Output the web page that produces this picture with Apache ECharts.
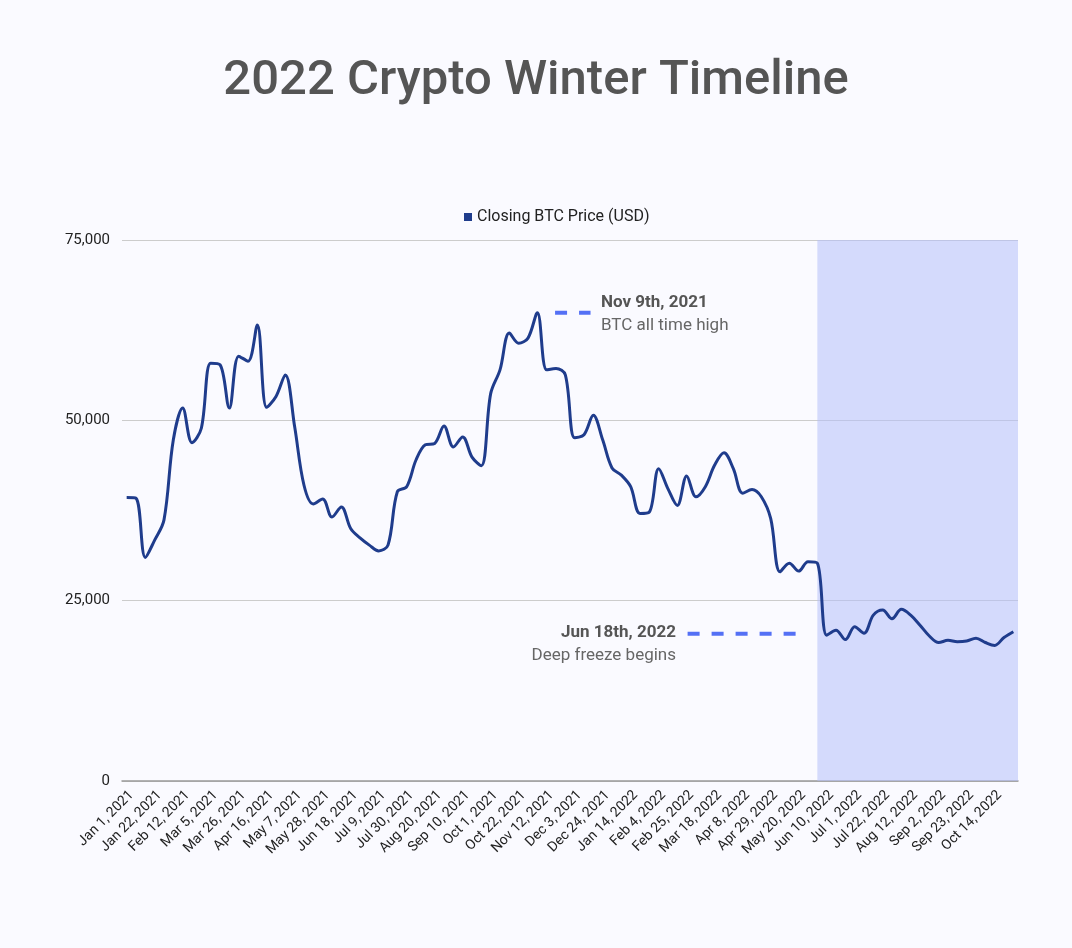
<!DOCTYPE html>
<html>
<head>
<meta charset="utf-8">
<script src="https://cdn.jsdelivr.net/npm/echarts@6/dist/echarts.min.js"></script>
<style>
html,body{margin:0;padding:0;background:#fafaff;}
#chart{width:1072px;height:948px;}
</style>
</head>
<body>
<div id="chart"></div>
<script>
var weekLabels = [
'Jan 1, 2021','Jan 8, 2021','Jan 15, 2021','Jan 22, 2021','Jan 29, 2021',
'Feb 5, 2021','Feb 12, 2021','Feb 19, 2021','Feb 26, 2021',
'Mar 5, 2021','Mar 12, 2021','Mar 19, 2021','Mar 26, 2021',
'Apr 2, 2021','Apr 9, 2021','Apr 16, 2021','Apr 23, 2021','Apr 30, 2021',
'May 7, 2021','May 14, 2021','May 21, 2021','May 28, 2021',
'Jun 4, 2021','Jun 11, 2021','Jun 18, 2021','Jun 25, 2021',
'Jul 2, 2021','Jul 9, 2021','Jul 16, 2021','Jul 23, 2021','Jul 30, 2021',
'Aug 6, 2021','Aug 13, 2021','Aug 20, 2021','Aug 27, 2021',
'Sep 3, 2021','Sep 10, 2021','Sep 17, 2021','Sep 24, 2021',
'Oct 1, 2021','Oct 8, 2021','Oct 15, 2021','Oct 22, 2021','Oct 29, 2021',
'Nov 5, 2021','Nov 12, 2021','Nov 19, 2021','Nov 26, 2021',
'Dec 3, 2021','Dec 10, 2021','Dec 17, 2021','Dec 24, 2021','Dec 31, 2021',
'Jan 7, 2022','Jan 14, 2022','Jan 21, 2022','Jan 28, 2022',
'Feb 4, 2022','Feb 11, 2022','Feb 18, 2022','Feb 25, 2022',
'Mar 4, 2022','Mar 11, 2022','Mar 18, 2022','Mar 25, 2022',
'Apr 1, 2022','Apr 8, 2022','Apr 15, 2022','Apr 22, 2022','Apr 29, 2022',
'May 6, 2022','May 13, 2022','May 20, 2022','May 27, 2022',
'Jun 3, 2022','Jun 10, 2022','Jun 17, 2022','Jun 24, 2022',
'Jul 1, 2022','Jul 8, 2022','Jul 15, 2022','Jul 22, 2022','Jul 29, 2022',
'Aug 5, 2022','Aug 12, 2022','Aug 19, 2022','Aug 26, 2022',
'Sep 2, 2022','Sep 9, 2022','Sep 16, 2022','Sep 23, 2022','Sep 30, 2022',
'Oct 7, 2022','Oct 14, 2022','Oct 21, 2022','Oct 28, 2022'
];

var closingPrice = [
39300, 39200, 31000, 33400, 36200, 47300, 51700, 46900, 48900, 57900,
57700, 51700, 58900, 58200, 63200, 51800, 53300, 56300, 49100, 41000,
38400, 39100, 36600, 38000, 35000, 33700, 32700, 31900, 32700, 40100,
40800, 44500, 46600, 46800, 49200, 46300, 47700, 44900, 43700, 53700,
57000, 62100, 60700, 61400, 64900, 57000, 57200, 56300, 47600, 48000,
50700, 47300, 43400, 42400, 40800, 37100, 37300, 43300, 40500, 38200,
42300, 39400, 40800, 43800, 45500, 43300, 39900, 40400, 39400, 36400,
29000, 30200, 29100, 30400, 30200, 20200, 20900, 19600, 21400, 20500,
23000, 23700, 22500, 23800, 23000, 21600, 20100, 19200, 19500, 19300,
19400, 19800, 19200, 18800, 19900, 20700
];

var yTicks = [0, 25000, 50000, 75000];

var freezeStartIndex = 74;

var athLine = [[45.9, 64900], [49.7, 64900]];
var freezeLine = [[60.1, 20400], [72.0, 20400]];

var athTitle = 'Nov 9th, 2021';
var athText = 'BTC all time high';
var freezeTitle = 'Jun 18th, 2022';
var freezeText = 'Deep freeze begins';

var chart = echarts.init(document.getElementById('chart'));
var font = 'Roboto, "Noto Sans", sans-serif';
var dashColor = '#5470f5';

chart.setOption({
  backgroundColor: '#fafaff',
  animation: false,
  textStyle: {fontFamily: font},
  title: {
    text: '2022 Crypto Winter Timeline',
    left: 'center',
    top: 52,
    textStyle: {fontFamily: font, fontSize: 49, fontWeight: 500, color: '#555555'}
  },
  legend: {
    data: ['Closing BTC Price (USD)'],
    left: 459,
    top: 204,
    icon: 'rect',
    itemWidth: 8,
    itemHeight: 8,
    itemGap: 6,
    textStyle: {fontFamily: font, fontSize: 16, color: '#222222'}
  },
  grid: {left: 122, right: 54, top: 240, bottom: 167, containLabel: false},
  xAxis: [{
    type: 'category',
    data: weekLabels,
    boundaryGap: true,
    axisLine: {show: true, lineStyle: {color: '#999999', width: 1.5}},
    axisTick: {show: false},
    axisLabel: {
      interval: 2,
      rotate: 45,
      fontFamily: font,
      fontSize: 14,
      color: '#222222',
      verticalAlign: 'top',
      margin: 7
    },
    splitLine: {show: false}
  }, {
    type: 'value',
    min: -0.5,
    max: weekLabels.length - 0.5,
    show: false
  }],
  yAxis: {
    type: 'value',
    min: yTicks[0],
    max: yTicks[yTicks.length - 1],
    interval: yTicks[1] - yTicks[0],
    axisLine: {show: false},
    axisTick: {show: false},
    axisLabel: {
      fontFamily: font,
      fontSize: 15,
      color: '#222222',
      margin: 12,
      formatter: function (v) { return v.toLocaleString('en-US'); }
    },
    splitLine: {lineStyle: {color: '#cccccc', width: 1}}
  },
  series: [{
    name: 'Closing BTC Price (USD)',
    type: 'line',
    data: closingPrice,
    smooth: 0.35,
    symbol: 'none',
    itemStyle: {color: '#1f3c8c'},
    lineStyle: {color: '#1f3c8c', width: 3},
    z: 3,
    markArea: {
      silent: true,
      itemStyle: {color: 'rgba(180,192,250,0.55)'},
      data: [[{xAxis: weekLabels[freezeStartIndex]}, {}]]
    }
  }, {
    name: 'ath',
    type: 'line',
    xAxisIndex: 1,
    data: athLine,
    symbol: 'none',
    silent: true,
    lineStyle: {color: dashColor, width: 4, type: [12, 12]},
    z: 4
  }, {
    name: 'freeze',
    type: 'line',
    xAxisIndex: 1,
    data: freezeLine,
    symbol: 'none',
    silent: true,
    lineStyle: {color: dashColor, width: 4, type: [12, 12]},
    z: 4
  }],
  graphic: [
    {type: 'text', left: 601, top: 294, style: {text: athTitle, font: 'bold 17px ' + font, fill: '#555555'}},
    {type: 'text', left: 601, top: 317, style: {text: athText, font: '17px ' + font, fill: '#666666'}},
    {type: 'text', right: 1072 - 676, top: 624, style: {text: freezeTitle, font: 'bold 17px ' + font, fill: '#555555', align: 'right'}},
    {type: 'text', right: 1072 - 676, top: 647, style: {text: freezeText, font: '17px ' + font, fill: '#666666', align: 'right'}}
  ]
});
</script>
</body>
</html>
